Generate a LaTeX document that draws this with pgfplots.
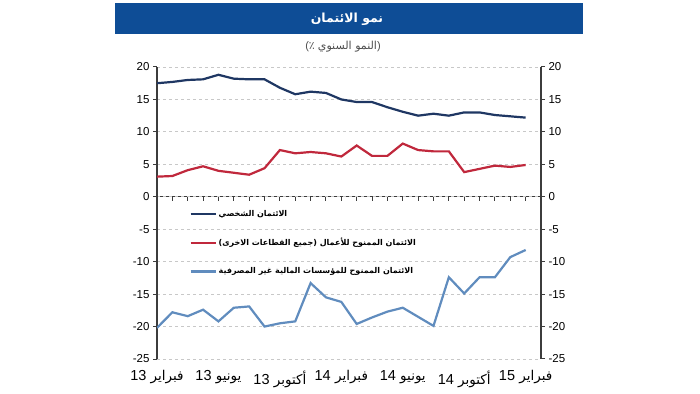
\documentclass[border=0pt]{standalone}
\usepackage{fontspec}
\setmainfont{Liberation Sans}
\newfontfamily\arabicfont[Script=Arabic]{DejaVu Sans}
\TeXXeTstate=1
\usepackage{pgfplots}
\pgfplotsset{compat=1.18}
\definecolor{titlebar}{RGB}{14,77,150}
\definecolor{personal}{RGB}{31,55,99}
\definecolor{business}{RGB}{192,40,60}
\definecolor{nbfi}{RGB}{96,140,190}
\definecolor{gridc}{RGB}{200,200,200}
\definecolor{axisc}{RGB}{60,60,60}
\newcommand{\ar}[1]{{\arabicfont\beginR #1\endR}}
\newcommand{\nm}[1]{\beginL{\rmfamily\fontsize{14.5}{16}\selectfont #1}\endL{}}
\pgfplotstableread{
x personal business nbfi
0 17.5 3.1 -20.2
1 17.7 3.2 -17.8
2 18.0 4.1 -18.4
3 18.1 4.7 -17.4
4 18.8 4.0 -19.2
5 18.2 3.7 -17.1
6 18.1 3.4 -16.9
7 18.1 4.4 -20.0
8 16.8 7.2 -19.5
9 15.8 6.7 -19.2
10 16.2 6.9 -13.3
11 16.0 6.7 -15.5
12 15.0 6.2 -16.2
13 14.6 7.9 -19.6
14 14.6 6.3 -18.6
15 13.8 6.3 -17.7
16 13.1 8.2 -17.1
17 12.5 7.2 -18.5
18 12.8 7.0 -19.9
19 12.5 7.0 -12.4
20 13.0 3.8 -14.9
21 13.0 4.3 -12.4
22 12.6 4.8 -12.4
23 12.4 4.6 -9.3
24 12.2 4.9 -8.2
}\datatable
\begin{document}
\begin{tikzpicture}
\useasboundingbox (0pt,0pt) rectangle (700pt,393pt);
\fill[titlebar] (115pt,359pt) rectangle (583pt,390pt);
\node[text=white,font=\bfseries\fontsize{12.5}{15}\selectfont] at (347pt,374pt) {\ar{نمو الائتمان}};
\node[text=black!70,font=\fontsize{11}{13}\selectfont] at (343pt,346pt) {{\rmfamily(}{\arabicfont ٪}\ \ar{النمو السنوي}{\rmfamily)}};
% right axis
\begin{axis}[
  at={(157pt,34pt)}, anchor=south west, scale only axis, width=384pt, height=292pt,
  xmin=0, xmax=25, ymin=-25, ymax=20,
  axis y line*=right, axis x line=none,
  ytick={-25,-20,...,20},
  tick align=outside, major tick length=4pt,
  y axis line style={axisc, line width=1.2pt},
  ytick style={axisc, line width=1pt},
  /pgf/number format/assume math mode=true,
  yticklabel style={font=\fontsize{11.5}{13}\selectfont, text=black},
]
\end{axis}
% zero axis
\begin{axis}[
  at={(157pt,34pt)}, anchor=south west, scale only axis, width=384pt, height=292pt,
  xmin=0, xmax=25, ymin=-25, ymax=20,
  axis x line=middle, axis y line=none,
  x axis line style={-, axisc, line width=1.2pt},
  every inner x axis line/.append style={-},
  xtick={0,...,24}, xticklabels={},
  xtick align=outside, major tick length=4pt,
  xtick style={axisc, line width=1pt},
]
\end{axis}
% main axis
\begin{axis}[
  at={(157pt,34pt)}, anchor=south west, scale only axis, width=384pt, height=292pt,
  xmin=0, xmax=25, ymin=-25, ymax=20,
  axis y line*=left, axis x line*=bottom,
  x axis line style={draw=none},
  y axis line style={axisc, line width=1.2pt},
  ytick={-25,-20,...,20},
  tick align=outside, major tick length=4pt,
  ytick style={axisc, line width=1pt},
  xtick={0,4,...,24},
  xticklabels={\ar{فبراير \nm{13}}, \ar{يونيو \nm{13}}, \ar{أكتوبر \nm{13}}, \ar{فبراير \nm{14}}, \ar{يونيو \nm{14}}, \ar{أكتوبر \nm{14}}, \ar{فبراير \nm{15}}},
  xtick style={draw=none},
  xticklabel style={font=\fontsize{13.5}{15}\selectfont, text=black, yshift=-4pt},
  ymajorgrids, grid style={dashed, gridc, line width=0.8pt},
  /pgf/number format/assume math mode=true,
  yticklabel style={font=\fontsize{11.5}{13}\selectfont, text=black},
  legend style={at={(axis cs:2.1,-1.7)}, anchor=north west, draw=none, fill=none,
    font=\bfseries\fontsize{8}{10}\selectfont, row sep=16.5pt, inner sep=0pt},
  legend cell align=left,
  legend image code/.code={\draw[#1, line width=2.2pt] (0pt,0pt) -- (25pt,0pt);},
]
\addplot[personal, line width=2.2pt] table[x=x, y=personal] {\datatable};
\addlegendentry{\ar{الائتمان الشخصي}}
\addplot[business, line width=2.2pt] table[x=x, y=business] {\datatable};
\addlegendentry{\ar{الائتمان الممنوح للأعمال (جميع القطاعات الاخرى)}}
\addplot[nbfi, line width=2.2pt] table[x=x, y=nbfi] {\datatable};
\addlegendentry{\ar{الائتمان الممنوح للمؤسسات المالية غير المصرفية}}
\end{axis}
\end{tikzpicture}
\end{document}
